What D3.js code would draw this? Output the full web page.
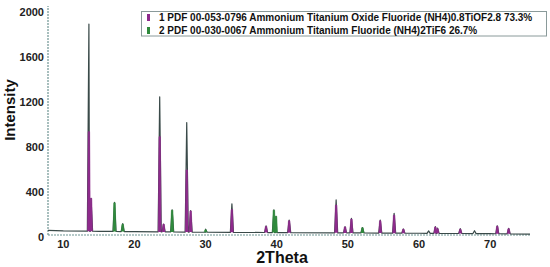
<!DOCTYPE html>
<html>
<head>
<meta charset="utf-8">
<script src="https://cdn.jsdelivr.net/npm/d3@7"></script>
<style>
  body { margin: 0; background: #fff; }
  svg { display: block; font-family: "Liberation Sans", Arial, sans-serif; }
</style>
</head>
<body>
<svg id="chart" width="550" height="267"></svg>
<script>

// observed pattern: peak positions (2theta) and heights (counts)
var peakPos = [13.6, 13.9, 17.2, 18.35, 23.55, 24.1, 25.3, 27.35, 27.9, 30.0,
    33.7, 38.5, 39.6, 39.9, 41.75, 48.35, 49.6, 50.5, 52.05, 54.55,
    56.5, 57.8, 61.35, 62.3, 62.6, 65.8, 67.8, 71.0, 72.6];
var peakInt = [1895, 340, 305, 115, 1245, 110, 237, 1016, 230, 65,
    292, 94, 237, 180, 147, 326, 88, 162, 80, 147,
    207, 67, 50, 88, 75, 70, 52, 96, 73];

// background of the observed pattern
var bgPos = [7.85, 10, 15, 20, 30, 40, 50, 60, 70, 75.6];
var bgInt = [55, 50, 46, 43, 38, 35, 32, 29, 25, 22];

// phase 1 reference lines (purple)
var phase1Pos = [13.6, 13.9, 23.55, 24.1, 27.35, 27.9, 33.7, 38.5, 41.75, 48.35,
    49.6, 50.5, 54.55, 56.5, 57.8, 62.3, 62.6, 65.8, 71.0, 72.6];
var phase1Int = [935, 340, 890, 110, 594, 228, 240, 90, 140, 280,
    85, 155, 140, 190, 65, 85, 70, 65, 92, 70];

// phase 2 reference lines (green)
var phase2Pos = [17.2, 18.35, 25.3, 30.0, 39.6, 39.9, 52.05];
var phase2Int = [300, 110, 235, 60, 235, 180, 78];

var legendLabels = [
    '1 PDF 00-053-0796 Ammonium Titanium Oxide Fluoride (NH4)0.8TiOF2.8 73.3%',
    '2 PDF 00-030-0067 Ammonium Titanium Fluoride (NH4)2TiF6 26.7%'
];
var xTicks = [10, 20, 30, 40, 50, 60, 70];
var yTicks = [0, 400, 800, 1200, 1600, 2000];

var colors = {
    observed: '#3a4a49',
    phase1: '#8e2a8c',
    phase2: '#2f8a3c',
    axis: '#6f9593'
};

var svg = d3.select('#chart');

var x = d3.scaleLinear().domain([7.85, 75.6]).range([48, 530]);
var y = d3.scaleLinear().domain([0, 2000]).range([236.5, 12.2]);

var bg = d3.scaleLinear().domain(bgPos).range(bgInt);

var halfWidth = 0.22;

// build the observed profile vertices from the peak list
var verts = bgPos.map(function(p) { return [p, bg(p)]; });
for (var i = 0; i < peakPos.length; i++) {
    var p = peakPos[i];
    verts.push([p - halfWidth, bg(p - halfWidth)]);
    verts.push([p, peakInt[i]]);
    verts.push([p + halfWidth, bg(p + halfWidth)]);
}
verts.sort(function(a, b) { return a[0] - b[0]; });

var line = d3.line()
    .x(function(d) { return x(d[0]); })
    .y(function(d) { return y(d[1]); });

// axes
svg.append('line')
    .attr('x1', x.range()[0]).attr('x2', x.range()[1])
    .attr('y1', y(0) - 1.5).attr('y2', y(0) - 1.5)
    .attr('stroke', colors.axis)
    .attr('stroke-width', 1.2)
    .attr('stroke-dasharray', '2,1');

svg.append('line')
    .attr('x1', x.range()[0]).attr('x2', x.range()[0])
    .attr('y1', y(0) - 1.5).attr('y2', 6)
    .attr('stroke', colors.axis)
    .attr('stroke-width', 1.2)
    .attr('stroke-dasharray', '2,1');

svg.append('g')
    .selectAll('text')
    .data(yTicks)
    .enter()
    .append('text')
    .attr('x', 44)
    .attr('y', function(d) { return y(d) + 4; })
    .attr('text-anchor', 'end')
    .attr('font-size', 11)
    .attr('font-weight', 'bold')
    .attr('fill', '#222')
    .text(function(d) { return d; });

svg.append('g')
    .selectAll('text')
    .data(xTicks)
    .enter()
    .append('text')
    .attr('x', function(d) { return x(d); })
    .attr('y', 248)
    .attr('text-anchor', 'middle')
    .attr('font-size', 11)
    .attr('font-weight', 'bold')
    .attr('fill', '#222')
    .text(function(d) { return d; });

svg.append('text')
    .attr('x', 282)
    .attr('y', 263)
    .attr('text-anchor', 'middle')
    .attr('font-size', 16)
    .attr('font-weight', 'bold')
    .attr('fill', '#111')
    .text('2Theta');

svg.append('text')
    .attr('transform', 'translate(15,110) rotate(-90)')
    .attr('text-anchor', 'middle')
    .attr('font-size', 15)
    .attr('font-weight', 'bold')
    .attr('fill', '#111')
    .text('Intensity');

// observed pattern
svg.append('path')
    .datum(verts)
    .attr('d', line)
    .attr('fill', 'none')
    .attr('stroke', colors.observed)
    .attr('stroke-width', 1.2)
    .attr('stroke-linejoin', 'round');

// reference sticks drawn over the pattern
function drawPhase(pos, ints, color) {
    var data = pos.map(function(p, i) { return [p, ints[i]]; });
    svg.append('g')
        .selectAll('path')
        .data(data)
        .enter()
        .append('path')
        .attr('d', function(d) {
            var b = bg(d[0]);
            return line([[d[0] - 0.2, b], [d[0] - 0.1, d[1]], [d[0] + 0.1, d[1]], [d[0] + 0.2, b]]);
        })
        .attr('fill', color)
        .attr('stroke', color)
        .attr('stroke-width', 0.6);
}

drawPhase(phase1Pos, phase1Int, colors.phase1);
drawPhase(phase2Pos, phase2Int, colors.phase2);

// legend
var legend = svg.append('g');

legend.append('rect')
    .attr('x', 141.5).attr('y', 11.5)
    .attr('width', 405).attr('height', 24.5)
    .attr('fill', '#fff')
    .attr('stroke', '#8a9a9a')
    .attr('stroke-width', 1);

var rows = legend.selectAll('g.row')
    .data(legendLabels)
    .enter()
    .append('g')
    .attr('class', 'row')
    .attr('transform', function(d, i) { return 'translate(0,' + (i * 13) + ')'; });

rows.append('rect')
    .attr('x', 147)
    .attr('y', 14)
    .attr('width', 3)
    .attr('height', 7)
    .attr('fill', function(d, i) { return i == 0 ? colors.phase1 : colors.phase2; });

rows.append('text')
    .attr('x', 159)
    .attr('y', 20.5)
    .attr('font-size', 10)
    .attr('font-weight', 'bold')
    .attr('fill', '#111')
    .text(function(d) { return d; });

</script>
</body>
</html>
